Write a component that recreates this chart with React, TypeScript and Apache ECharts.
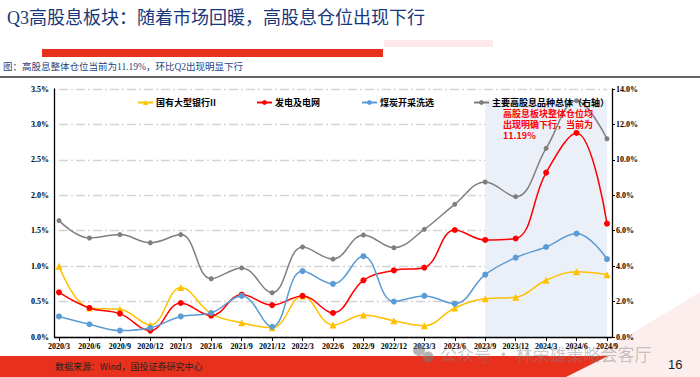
import React, { useEffect, useRef } from "react";
import * as echarts from "echarts";

const categories = ["2020/3","2020/6","2020/9","2020/12","2021/3","2021/6","2021/9","2021/12","2022/3","2022/6","2022/9","2022/12","2023/3","2023/6","2023/9","2023/12","2024/3","2024/6","2024/9"];
const bankValues = [1.0,0.41,0.39,0.17,0.70,0.33,0.20,0.13,0.58,0.17,0.31,0.23,0.16,0.41,0.54,0.56,0.80,0.92,0.88];
const powerValues = [0.63,0.41,0.33,0.09,0.48,0.30,0.60,0.45,0.58,0.34,0.80,0.94,0.98,1.51,1.37,1.39,2.32,2.88,1.60];
const coalValues = [0.29,0.18,0.09,0.13,0.29,0.34,0.58,0.145,0.93,0.75,1.14,0.50,0.58,0.47,0.88,1.12,1.27,1.46,1.10];
const totalValues = [6.57,5.59,5.78,5.32,5.78,3.29,3.90,2.50,5.08,4.40,5.76,5.04,6.08,7.49,8.75,7.92,10.65,13.34,11.19];
const seriesNames = ["国有大型银行II","发电及电网","煤炭开采洗选","主要高股息品种总体（右轴）"];

const titleText = "Q3高股息板块：随着市场回暖，高股息仓位出现下行";
const subtitleText = "图：高股息整体仓位当前为11.19%，环比Q2出现明显下行";
const noteText = "高股息板块整体仓位均\n出现明确下行，当前为\n11.19%";
const sourceText = "数据来源：Wind，国投证券研究中心";

export default function App() {
  const ref = useRef<HTMLDivElement>(null);
  useEffect(() => {
    if (!ref.current) return;
    const chart = echarts.init(ref.current, null, { renderer: "svg" });
    const serif = "'Liberation Serif', 'Times New Roman', serif";
    const cjk = "'Noto Sans CJK SC', sans-serif";
    const axisLabel = { color: "#000", fontFamily: serif, fontWeight: "bold" as const, fontSize: 8 };
    const splitLine = { show: true, lineStyle: { color: "#d4d4d4", width: 1.3, type: [9, 3, 2, 3] } };
    const legendBase = {
      top: 93, itemWidth: 15, itemHeight: 6, itemGap: 0,
      textStyle: { fontSize: 9, color: "#000", fontWeight: "bold" as const, fontFamily: cjk, padding: [0, 0, 0, -2] },
    };
    const lineSeries = (name: string, data: number[], color: string, symbol: string, size: number, yAxisIndex = 0) => ({
      name, type: "line", data, yAxisIndex, smooth: 0.4, symbol, symbolSize: size,
      lineStyle: { color, width: 1.5 }, itemStyle: { color }, z: 3,
    });
    chart.setOption({
      animation: false,
      backgroundColor: "#fff",
      grid: { left: 59, right: 93, top: 89, bottom: 40 },
      legend: [
        { ...legendBase, left: 132, data: [seriesNames[0]] },
        { ...legendBase, left: 251, data: [seriesNames[1]] },
        { ...legendBase, left: 356, data: [seriesNames[2]] },
        { ...legendBase, left: 468, data: [seriesNames[3]] },
      ],
      xAxis: {
        type: "category", data: categories, boundaryGap: false,
        axisLine: { show: false },
        axisTick: { show: true, length: 4, lineStyle: { color: "#000" } },
        axisLabel: { ...axisLabel, margin: 5, interval: 0 },
      },
      yAxis: [
        {
          type: "value", min: 0, max: 3.5, interval: 0.5, offset: 5,
          axisLine: { show: true, lineStyle: { color: "#000", width: 1.3 } },
          axisTick: { show: false },
          axisLabel: { ...axisLabel, margin: 5, formatter: (v: number) => v.toFixed(1) + "%" },
          splitLine,
        },
        {
          type: "value", min: 0, max: 14, interval: 2, offset: 5, position: "right",
          axisLine: { show: true, lineStyle: { color: "#000", width: 1.3 } },
          axisTick: { show: true, inside: false, length: 3, lineStyle: { color: "#000" } },
          axisLabel: { ...axisLabel, margin: 4, formatter: (v: number) => v.toFixed(1) + "%" },
          splitLine: { show: false },
        },
      ],
      series: [
        {
          ...lineSeries(seriesNames[3], totalValues, "#7f7f7f", "circle", 5, 1),
          z: 2,
          markArea: {
            silent: true,
            itemStyle: { color: "#eaeff8" },
            data: [[{ xAxis: "2023/9", yAxis: 13.4 }, { xAxis: "2024/9", yAxis: 0 }]],
          },
        },
        lineSeries(seriesNames[0], bankValues, "#ffc000", "triangle", 7),
        lineSeries(seriesNames[1], powerValues, "#ff0000", "circle", 6),
        lineSeries(seriesNames[2], coalValues, "#5b9bd5", "circle", 6),
      ],
      graphic: [
        { type: "text", left: 7, top: 9, style: { text: titleText, fontSize: 18, fill: "#17377a", fontFamily: "'Liberation Serif', 'Noto Sans CJK SC', serif" } },
        { type: "rect", shape: { x: 384, y: 40, width: 109, height: 7 }, style: { fill: "#fde9e9" } },
        { type: "rect", shape: { x: 42, y: 49, width: 341, height: 8 }, style: { fill: "#e8311c" } },
        { type: "text", left: 3, top: 62, style: { text: subtitleText, fontSize: 9.5, fill: "#1f3f7f", fontFamily: "'Liberation Serif', 'Noto Sans CJK SC', serif" } },
        { type: "line", shape: { x1: 0, y1: 77, x2: 700, y2: 77 }, style: { stroke: "#333", lineWidth: 1.5 } },
        { type: "line", shape: { x1: 54, y1: 337.5, x2: 612, y2: 337.5 }, style: { stroke: "#000", lineWidth: 1.3 }, z: 10 },
        { type: "text", left: 503, top: 108, z: 10, style: { text: noteText, fontSize: 9, lineHeight: 11, fontWeight: "bold", fill: "#ff0000", fontFamily: cjk } },
        { type: "polygon", shape: { points: [[560, 377], [700, 292], [700, 377]] }, style: { fill: "#fdeeee" }, z: -1 },
        { type: "polygon", shape: { points: [[0, 356], [608, 356], [566, 377], [0, 377]] }, style: { fill: "#e8311c" } },
        { type: "text", left: 55, top: 362, style: { text: sourceText, fontSize: 9, fill: "#222", fontFamily: cjk } },
        { type: "circle", shape: { cx: 419, cy: 350, r: 6 }, style: { fill: "rgba(120,120,120,0.55)" }, z: 20 },
        { type: "circle", shape: { cx: 428, cy: 357, r: 5.5 }, style: { fill: "rgba(120,120,120,0.55)" }, z: 20 },
        { type: "text", left: 440, top: 345, z: 20, style: { text: "公众号 · 林荣雄策略会客厅", fontSize: 17, fill: "rgba(130,130,130,0.45)", fontFamily: cjk } },
        { type: "text", left: 668, top: 358, style: { text: "16", fontSize: 13, fill: "#222", fontFamily: "'Liberation Sans', Arial, sans-serif" } },
      ],
    });
    return () => chart.dispose();
  }, []);
  return <div ref={ref} style={{ position: "fixed", left: 0, top: 0, width: 700, height: 377 }} />;
}
